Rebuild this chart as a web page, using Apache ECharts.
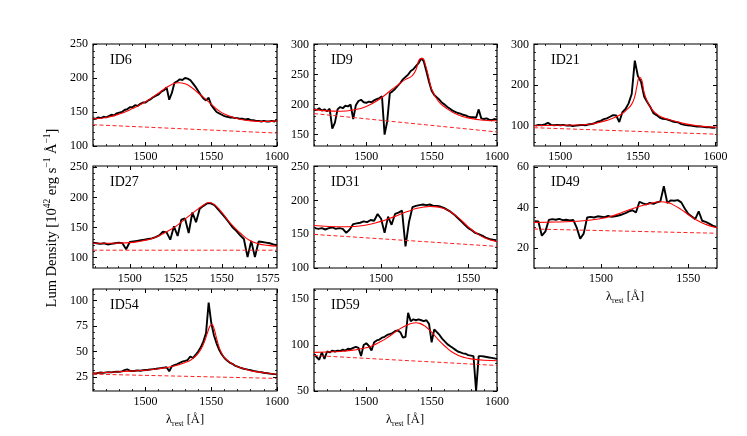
<!DOCTYPE html>
<html>
<head>
<meta charset="utf-8">
<script src="https://cdn.jsdelivr.net/npm/echarts@6/dist/echarts.min.js"></script>
<style>
  html, body { margin: 0; padding: 0; background: #fff; }
  #chart { width: 747px; height: 436px; }
</style>
</head>
<body>
<div id="chart"></div>
<script>
// spectra are sampled every 2 A starting at the given wavelength
const id6Start = 1460;
const id6Flux = [141,140,142,141,143,142,144,146,145,148,149,150,153,154,157,157,160,159,162,164,164,167,169,172,174,176,180,182,186,168,178,193,195,198,197,200,199,197,192,187,181,175,170,167,171,160,155,150,148,146,144,143,142,142,141,141,140,140,139,140,138,138,137,137,136,137,136,136,137,136,138];
const id6FitX = [1460,1470,1480,1490,1500,1510,1515,1520,1525,1530,1535,1540,1545,1550,1555,1560,1570,1580,1590,1600];
const id6FitY = [140,142,147,155,165,178,185,190.5,193,191.5,186,178,170,161.5,153,147,140,137,136,137];
const id6ContX = [1460,1600];
const id6ContY = [131.3,119];

const id9Start = 1460;
const id9Flux = [193,191,194,190,192,189,193,160,170,192,196,194,198,197,200,176,199,206,208,204,203,205,204,207,209,211,214,150,172,219,222,226,231,236,242,246,250,256,259,264,269,277,272,255,238,223,216,212,208,203,200,196,193,190,188,186,185,183,182,180,179,179,178,192,177,176,177,175,174,176,175];
const id9FitX = [1460,1470,1480,1490,1500,1510,1520,1525,1530,1535,1538,1541,1543,1545,1548,1550,1555,1560,1570,1580,1590,1600];
const id9FitY = [192,189.5,189,191,197,209,226,234,242,248,258,276,277,268,243,226,206,196,183,177,174,173];
const id9ContX = [1460,1600];
const id9ContY = [185,154.4];

const id21Start = 1484;
const id21Flux = [100,102,101,103,107,102,101,102,101,102,100,101,99,100,101,102,101,103,104,106,110,112,116,118,122,126,125,109,133,141,155,178,260,222,208,172,158,146,131,126,120,117,116,114,111,109,108,104,102,101,100,99,98,98,97,96,96,95,95];
const id21FitX = [1483,1500,1510,1520,1525,1530,1535,1540,1543,1546,1548,1549.5,1551,1552.5,1554,1556,1559,1562,1566,1570,1580,1590,1601];
const id21FitY = [100,101,101.5,104,108,113,120,130,140,153,172,200,219,212,182,160,140,129,120,115,105,99,96];
const id21ContX = [1483,1601];
const id21ContY = [95,79];

const id27Start = 1480;
const id27Flux = [125,124,123,124,122,123,124,125,124,114,126,127,128,129,130,131,132,134,137,143,142,130,152,136,163,165,141,175,159,181,186,190,190,187,180,173,166,158,150,144,137,131,101,128,101,127,126,125,124,122,121];
const id27FitX = [1480,1490,1500,1505,1510,1515,1520,1525,1530,1535,1540,1543,1546,1550,1555,1560,1565,1570,1575,1580];
const id27FitY = [124,124,125,127,130,135,143,152,164,176,187,191.5,188,175,156,141,129,123,120.5,119];
const id27ContX = [1480,1580];
const id27ContY = [112.5,112.5];

const id31Start = 1462;
const id31Flux = [159,158,159,157,159,160,158,159,158,152,157,165,166,167,169,168,171,170,180,173,152,176,164,180,182,185,132,168,190,192,193,194,193,194,192,192,191,189,186,183,179,174,169,164,159,156,152,150,148,145,143,142,141];
const id31FitX = [1461.5,1470,1480,1490,1500,1505,1510,1515,1520,1525,1528,1532,1536,1540,1545,1550,1555,1560,1566.5];
const id31FitY = [163,161.5,161,163,169,173.5,178.5,183.5,188,190.5,191,190.5,188,183,173,161,151,144,139];
const id31ContX = [1461.5,1566.5];
const id31ContY = [149.7,132];

const id49Start = 1462;
const id49Flux = [33.2,33.0,26.0,28.0,33.8,34.2,33.9,34.3,33.7,33.9,33.6,33.8,30.0,24.5,27.0,35.0,35.3,35.0,35.6,35.4,35.2,35.8,35.3,35.6,36.0,36.5,37.2,38.0,38.6,37.5,42.8,42.0,41.5,42.2,41.8,42.5,43.0,50.5,42.2,43.5,43.3,43.6,42.5,39.5,36.8,35.5,34.2,38.0,33.4,32.8,32.0,31.0,30.3];
const id49FitX = [1461.5,1470,1480,1490,1500,1505,1510,1515,1520,1525,1530,1534,1538,1542,1546,1550,1555,1560,1566.5];
const id49FitY = [32.6,32.7,32.9,33.4,34.5,35.4,36.8,38.5,40.0,41.2,42.3,42.8,42.5,41.0,38.9,36.5,33.6,31.6,29.9];
const id49ContX = [1461.5,1566.5];
const id49ContY = [29.3,27.2];

const id54Start = 1460;
const id54Flux = [28.5,28.0,28.8,29.2,28.9,29.4,29.6,29.3,29.8,30.1,29.9,30.4,31.5,32.3,31.0,30.6,30.9,31.3,31.0,31.5,31.7,31.9,32.3,32.6,32.9,33.3,33.6,34.0,34.4,30.5,35.4,36.5,37.6,38.8,40.0,40.7,41.5,45.0,43.5,46.5,49.8,54.0,60.0,68.0,98.0,78.0,66.0,58.0,51.5,47.0,43.5,41.0,39.0,37.8,36.0,35.0,34.0,33.2,32.6,32.0,31.5,30.8,30.3,29.8,29.5,29.0,28.6,28.2,27.9,27.6,27.4];
const id54FitX = [1460,1480,1500,1510,1520,1530,1535,1540,1544,1547,1549,1550.5,1552,1554,1556,1558,1560,1565,1570,1580,1590,1600];
const id54FitY = [28.5,30,31.5,33,35.2,39,42,48,57,68,75,76.5,73,63,54,48,44,38.5,35,31,29,27.5];
const id54ContX = [1460,1600];
const id54ContY = [27.6,23.4];

const id59Start = 1460;
const id59Flux = [90,87,84,92,85,93,92,94,93,94,93.5,95,94,96,95.5,97,98,97,88,100,102,99,94,103,105,106,108,109,111,112,113,115,116,114,108,109,135,126,128,127,128,127,126,127,123,103,117,114,111,107,104,101,99,97,95,93,92,91,90.5,89,88.5,88,50,88,88,87.5,87,86.5,86,85.5,85];
const id59FitX = [1460,1470,1480,1490,1500,1505,1510,1515,1520,1525,1530,1535,1538,1541,1545,1550,1555,1560,1565,1570,1575,1580,1590,1600];
const id59FitY = [92,92.5,93,94.5,97,99.5,103,107,112,117,121,123.8,124.3,123.6,120.5,114,106,99,93,89,86.5,85,83.5,83];
const id59ContX = [1460,1600];
const id59ContY = [88.6,77.8];

// tick labels
const ticks1500 = [1500,1550,1600];
const ticks1500b = [1500,1550];
const ticks27x = [1500,1525,1550,1575];
const ticks50s = [100,150,200,250];
const ticks9y = [150,200,250,300];
const ticks21y = [100,200,300];
const ticks49y = [20,40,60];
const ticks54y = [25,50,75,100];
const ticks59y = [50,100,150];

const panels = [
  { name: 'ID6', start: id6Start, flux: id6Flux, fitX: id6FitX, fitY: id6FitY, contX: id6ContX, contY: id6ContY,
    xr: [1460, 1600], yr: [100, 250], xt: ticks1500, yt: ticks50s, xm: 10, ym: 10 },
  { name: 'ID9', start: id9Start, flux: id9Flux, fitX: id9FitX, fitY: id9FitY, contX: id9ContX, contY: id9ContY,
    xr: [1460, 1600], yr: [131, 301], xt: ticks1500, yt: ticks9y, xm: 10, ym: 10 },
  { name: 'ID21', start: id21Start, flux: id21Flux, fitX: id21FitX, fitY: id21FitY, contX: id21ContX, contY: id21ContY,
    xr: [1483, 1601], yr: [50, 301], xt: ticks1500, yt: ticks21y, xm: 10, ym: 20 },
  { name: 'ID27', start: id27Start, flux: id27Flux, fitX: id27FitX, fitY: id27FitY, contX: id27ContX, contY: id27ContY,
    xr: [1480, 1580], yr: [83, 252], xt: ticks27x, yt: ticks50s, xm: 6.25, ym: 10 },
  { name: 'ID31', start: id31Start, flux: id31Flux, fitX: id31FitX, fitY: id31FitY, contX: id31ContX, contY: id31ContY,
    xr: [1461.5, 1566.5], yr: [100, 251], xt: ticks1500b, yt: ticks50s, xm: 10, ym: 10 },
  { name: 'ID49', start: id49Start, flux: id49Flux, fitX: id49FitX, fitY: id49FitY, contX: id49ContX, contY: id49ContY,
    xr: [1461.5, 1566.5], yr: [10, 60.5], xt: ticks1500b, yt: ticks49y, xm: 10, ym: 5 },
  { name: 'ID54', start: id54Start, flux: id54Flux, fitX: id54FitX, fitY: id54FitY, contX: id54ContX, contY: id54ContY,
    xr: [1460, 1600], yr: [11, 111.5], xt: ticks1500, yt: ticks54y, xm: 10, ym: 6.25 },
  { name: 'ID59', start: id59Start, flux: id59Flux, fitX: id59FitX, fitY: id59FitY, contX: id59ContX, contY: id59ContY,
    xr: [1460, 1600], yr: [50, 161], xt: ticks1500, yt: ticks59y, xm: 10, ym: 10 }
];

// panel boxes in pixels: left, top, width, height
const boxes = [
  [93, 44, 184, 102], [314, 44, 183, 102], [534, 44, 183, 102],
  [93, 166, 184, 102], [314, 166, 183, 102], [534, 166, 183, 102],
  [93, 289, 184, 102], [314, 289, 183, 102]
];

const FONT = 'Liberation Serif';
const chart = echarts.init(document.getElementById('chart'));

function minorTicks(lo, hi, step) {
  const out = [];
  for (let v = Math.ceil(lo / step - 1e-9) * step; v <= hi + 1e-9; v += step) {
    out.push(+v.toFixed(4));
  }
  return out;
}

function makeAxis(gi, range, pos, values, len, withLabels) {
  return {
    type: 'value', gridIndex: gi, position: pos,
    min: range[0], max: range[1],
    axisLine: { show: false, onZero: false },
    splitLine: { show: false },
    axisTick: { show: true, inside: true, length: len, customValues: values,
                lineStyle: { color: '#000', width: len > 3 ? 1 : 0.8 } },
    axisLabel: withLabels
      ? { show: true, customValues: values, formatter: v => String(v), color: '#000',
          fontFamily: FONT, fontSize: 12, margin: 5 }
      : { show: false }
  };
}

const grid = [], xAxis = [], yAxis = [], series = [], graphic = [];

panels.forEach((p, i) => {
  const b = boxes[i];
  grid.push({ left: b[0], top: b[1], width: b[2], height: b[3], show: true,
              borderColor: '#000', borderWidth: 1.2, backgroundColor: 'transparent' });
  const xMinor = minorTicks(p.xr[0], p.xr[1], p.xm);
  const yMinor = minorTicks(p.yr[0], p.yr[1], p.ym);
  xAxis.push(makeAxis(i, p.xr, 'bottom', p.xt, 4, true));
  xAxis.push(makeAxis(i, p.xr, 'top', p.xt, 4, false));
  xAxis.push(makeAxis(i, p.xr, 'bottom', xMinor, 2, false));
  xAxis.push(makeAxis(i, p.xr, 'top', xMinor, 2, false));
  yAxis.push(makeAxis(i, p.yr, 'left', p.yt, 4, true));
  yAxis.push(makeAxis(i, p.yr, 'right', p.yt, 4, false));
  yAxis.push(makeAxis(i, p.yr, 'left', yMinor, 2, false));
  yAxis.push(makeAxis(i, p.yr, 'right', yMinor, 2, false));

  const ax = 4 * i;
  series.push({
    type: 'line', xAxisIndex: ax, yAxisIndex: ax, symbol: 'none', silent: true,
    data: p.flux.map((v, k) => [p.start + 2 * k, v]),
    lineStyle: { color: '#000', width: 1.9 }, z: 2
  });
  series.push({
    type: 'line', xAxisIndex: ax, yAxisIndex: ax, symbol: 'none', silent: true, smooth: 0.5,
    data: p.fitX.map((x, k) => [x, p.fitY[k]]),
    lineStyle: { color: '#ff0000', width: 1.1 }, z: 3
  });
  series.push({
    type: 'line', xAxisIndex: ax, yAxisIndex: ax, symbol: 'none', silent: true,
    data: p.contX.map((x, k) => [x, p.contY[k]]),
    lineStyle: { color: '#ff2020', width: 1, type: [4, 2.5] }, z: 3
  });

  graphic.push({
    type: 'text', x: b[0] + 17, y: b[1] + 16, silent: true,
    style: { text: p.name, fill: '#000', font: '14px "' + FONT + '"', verticalAlign: 'middle' }
  });
});

const xName = '{l|λ}{s|rest}{n| [Å]}';
const xNameRich = {
  l: { fontFamily: FONT, fontSize: 12.5, lineHeight: 16, verticalAlign: 'middle' },
  s: { fontFamily: FONT, fontSize: 8, lineHeight: 8, verticalAlign: 'bottom' },
  n: { fontFamily: FONT, fontSize: 12.5, lineHeight: 16, verticalAlign: 'middle' }
};
[[185, 420], [405, 420], [625, 297]].forEach(pt => {
  graphic.push({
    type: 'text', x: pt[0], y: pt[1], silent: true,
    style: { text: xName, rich: xNameRich, fill: '#000', align: 'center', verticalAlign: 'middle' }
  });
});

graphic.push({
  type: 'text', x: 52, y: 218, rotation: Math.PI / 2, silent: true,
  style: {
    text: '{n|Lum Density [10}{p|42}{n| erg s}{p|−1}{n| Å}{p|−1}{n|]}',
    fill: '#000', align: 'center', verticalAlign: 'middle',
    rich: {
      n: { fontFamily: FONT, fontSize: 14.5, lineHeight: 20, verticalAlign: 'middle' },
      p: { fontFamily: FONT, fontSize: 9.5, lineHeight: 9, verticalAlign: 'top' }
    }
  }
});

chart.setOption({
  animation: false,
  backgroundColor: '#fff',
  grid: grid,
  xAxis: xAxis,
  yAxis: yAxis,
  series: series,
  graphic: graphic
});
</script>
</body>
</html>
